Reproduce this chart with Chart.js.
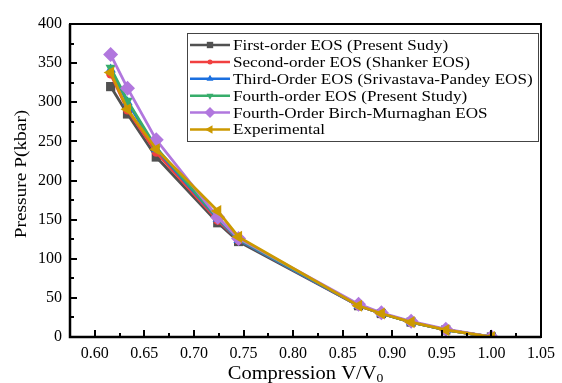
<!DOCTYPE html>
<html>
<head>
<meta charset="utf-8">
<script src="https://cdn.jsdelivr.net/npm/chart.js@4.4.0/dist/chart.umd.min.js"></script>
<style>
  html, body { margin: 0; padding: 0; background: #fff; }
  #wrap { width: 562px; height: 383px; }
</style>
</head>
<body>
<div id="wrap"><canvas id="c" width="562" height="383"></canvas></div>
<script>
const compression = [0.616, 0.633, 0.662, 0.724, 0.745, 0.866, 0.889, 0.919, 0.954, 1.00];

const firstOrder  = [320, 285, 230, 146, 122, 40, 30, 19, 9, 0];
const secondOrder = [336, 290, 236, 149, 124, 40, 30, 19, 9, 0];
const thirdOrder  = [342, 300, 240, 151, 124, 40, 30, 19, 9, 0];
const fourthOrder = [344, 302, 242, 152, 125, 41, 30, 19, 9, 0];
const birchMurn   = [361, 318, 252, 153, 126, 42, 31, 20, 10, 0];
const experiment  = [338, 291, 240, 161, 128, 40, 30, 19, 9, 0];

const xTicks = [0.60, 0.65, 0.70, 0.75, 0.80, 0.85, 0.90, 0.95, 1.00, 1.05];
const yTicks = [0, 50, 100, 150, 200, 250, 300, 350, 400];

const seriesNames = [
  'First-order EOS (Present Sudy)',
  'Second-order EOS (Shanker EOS)',
  'Third-Order EOS (Srivastava-Pandey EOS)',
  'Fourth-order EOS (Present Study)',
  'Fourth-Order Birch-Murnaghan EOS',
  'Experimental'
];
const seriesData = [firstOrder, secondOrder, thirdOrder, fourthOrder, birchMurn, experiment];
const colors = ['#515151', '#F14040', '#1A6FDF', '#37AD6B', '#B177DE', '#CC9900'];
const styles = [
  { pointStyle: 'rect', rotation: 0, radius: 6.5 },
  { pointStyle: 'circle', rotation: 0, radius: 4.5 },
  { pointStyle: 'triangle', rotation: 0, radius: 6 },
  { pointStyle: 'triangle', rotation: 180, radius: 6 },
  { pointStyle: 'rectRot', rotation: 0, radius: 7.5 },
  { pointStyle: 'triangle', rotation: 270, radius: 7 }
];

const FONT = '"Liberation Serif", "Times New Roman", serif';
const STRETCH = 1.14; // reference text is a bit wide

const datasets = seriesNames.map((name, i) => ({
  label: name,
  data: compression.map((x, k) => ({ x: x, y: seriesData[i][k] })),
  borderColor: colors[i],
  backgroundColor: colors[i],
  borderWidth: 2.8,
  pointStyle: styles[i].pointStyle,
  rotation: styles[i].rotation,
  pointRadius: styles[i].radius,
  pointBorderWidth: 0,
  pointHoverRadius: styles[i].radius,
  tension: 0,
  fill: false,
  order: seriesNames.length - i
}));

function wideText(ctx, text, x, y) {
  ctx.save();
  ctx.translate(x, y);
  ctx.scale(STRETCH, 1);
  ctx.fillText(text, 0, 0);
  ctx.restore();
}

// frame, inward ticks, axis titles and legend
const decor = {
  id: 'decor',
  afterDraw(chart) {
    const ctx = chart.ctx;
    const a = chart.chartArea;
    const xs = chart.scales.x, ys = chart.scales.y;
    ctx.save();
    ctx.strokeStyle = '#000';

    // minor + major ticks pointing inward
    ctx.lineWidth = 2;
    for (let k = 0; k <= 19; k++) {
      const v = 0.575 + k * 0.025;
      const px = Math.round(xs.getPixelForValue(v));
      const major = k % 2 === 1;
      ctx.beginPath();
      ctx.moveTo(px, a.bottom);
      ctx.lineTo(px, a.bottom - (major ? 7 : 4));
      ctx.stroke();
    }
    for (let v = 0; v <= 400; v += 25) {
      const py = Math.round(ys.getPixelForValue(v));
      ctx.beginPath();
      ctx.moveTo(a.left, py);
      ctx.lineTo(a.left + (v % 50 === 0 ? 7 : 4), py);
      ctx.stroke();
    }

    // box
    ctx.lineWidth = 2;
    ctx.strokeRect(a.left, a.top, a.right - a.left, a.bottom - a.top);
    ctx.lineWidth = 2.5;
    ctx.beginPath();
    ctx.moveTo(a.left, a.top);
    ctx.lineTo(a.left, a.bottom);
    ctx.lineTo(a.right, a.bottom);
    ctx.stroke();

    // axis titles
    ctx.fillStyle = '#000';
    ctx.textBaseline = 'middle';
    ctx.textAlign = 'left';
    const main = 'Compression V/V';
    ctx.font = '18px ' + FONT;
    const w1 = ctx.measureText(main).width * STRETCH;
    ctx.font = '12px ' + FONT;
    const w2 = ctx.measureText('0').width * STRETCH;
    const cx = (a.left + a.right) / 2;
    const sx = cx - (w1 + w2) / 2;
    ctx.font = '18px ' + FONT;
    wideText(ctx, main, sx, 374);
    ctx.font = '12px ' + FONT;
    wideText(ctx, '0', sx + w1, 379);

    ctx.save();
    ctx.translate(22, 174);
    ctx.rotate(-Math.PI / 2);
    ctx.textAlign = 'center';
    ctx.font = '17px ' + FONT;
    ctx.scale(STRETCH, 1);
    ctx.fillText('Pressure P(kbar)', 0, 0);
    ctx.restore();

    // legend
    const lx = 187, ly = 33, lw = 351, lh = 108;
    ctx.lineWidth = 1;
    ctx.strokeStyle = '#444';
    ctx.strokeRect(lx + 0.5, ly + 0.5, lw, lh);
    ctx.font = '15px ' + FONT;
    ctx.textAlign = 'left';
    seriesNames.forEach((name, i) => {
      const y = 45 + i * 16.9;
      ctx.strokeStyle = colors[i];
      ctx.fillStyle = colors[i];
      ctx.lineWidth = 2.5;
      ctx.beginPath();
      ctx.moveTo(190, y);
      ctx.lineTo(230, y);
      ctx.stroke();
      Chart.helpers.drawPoint(ctx, {
        pointStyle: styles[i].pointStyle,
        rotation: styles[i].rotation,
        radius: styles[i].radius - 2,
        borderWidth: 0
      }, 210, y);
      ctx.fillStyle = '#000';
      wideText(ctx, name, 233, y + 1);
    });
    ctx.restore();
  }
};

new Chart(document.getElementById('c'), {
  type: 'line',
  data: { datasets },
  options: {
    responsive: false,
    animation: false,
    devicePixelRatio: 1,
    layout: { padding: { top: 24, right: 13, left: 0, bottom: 0 } },
    plugins: { legend: { display: false }, tooltip: { enabled: false } },
    scales: {
      x: {
        type: 'linear',
        min: 0.575,
        max: 1.05,
        afterBuildTicks: s => { s.ticks = xTicks.map(v => ({ value: v })); },
        afterFit: s => { s.height = 46; },
        grid: { display: false, drawTicks: false },
        border: { display: false },
        ticks: {
          padding: 7,
          color: '#000',
          font: { family: FONT, size: 16 },
          callback: v => Number(v).toFixed(2)
        }
      },
      y: {
        type: 'linear',
        min: 0,
        max: 400,
        afterBuildTicks: s => { s.ticks = yTicks.map(v => ({ value: v })); },
        afterFit: s => { s.width = 70; },
        grid: { display: false, drawTicks: false },
        border: { display: false },
        ticks: {
          padding: 8,
          color: '#000',
          font: { family: FONT, size: 16 }
        }
      }
    }
  },
  plugins: [decor]
});
</script>
</body>
</html>
